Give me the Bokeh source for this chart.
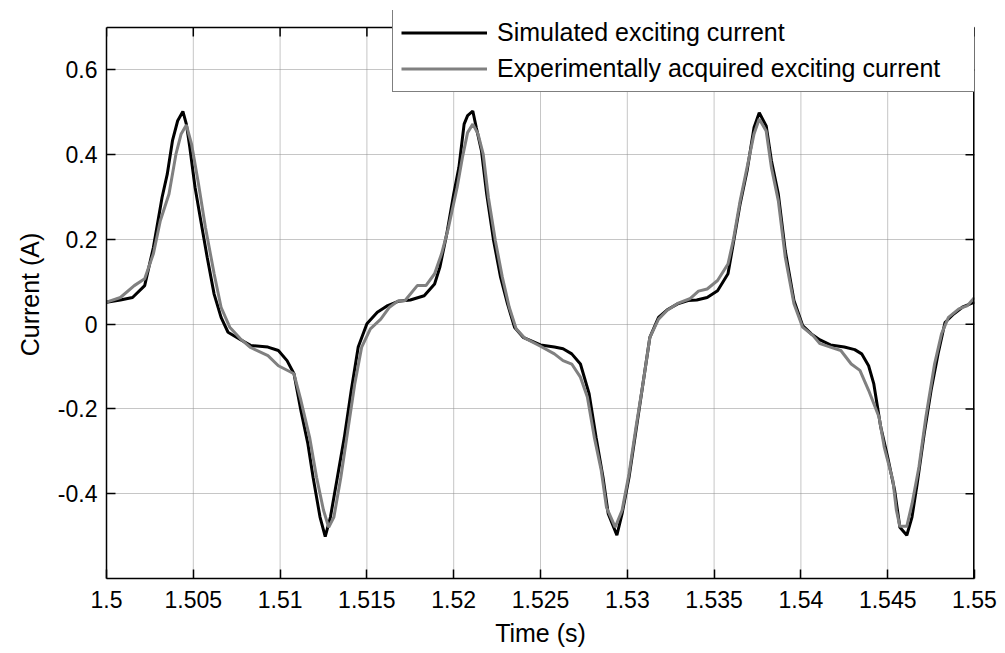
from bokeh.plotting import figure
from bokeh.models import Range1d, FixedTicker, Legend, LegendItem, ColumnDataSource
from bokeh.embed import file_html
from bokeh.resources import INLINE

# ---- data ----
sim_t = [1.5000, 1.5008, 1.5015, 1.5022, 1.5027, 1.5032, 1.5035, 1.5038, 1.5041, 1.5044,
         1.5046, 1.5048, 1.5051, 1.5054, 1.5058, 1.5062, 1.5066, 1.5070, 1.5077, 1.5083,
         1.5093, 1.5099, 1.5104, 1.5108, 1.5112, 1.5116, 1.5119, 1.5123, 1.5126, 1.5129,
         1.5133, 1.5137, 1.5141, 1.5145, 1.5150, 1.5156, 1.5162, 1.5168, 1.5175, 1.5183,
         1.5189, 1.5192, 1.5196, 1.5200, 1.5203, 1.5206, 1.5208, 1.5211, 1.5213, 1.5216,
         1.5219, 1.5223, 1.5227, 1.5231, 1.5235, 1.5240, 1.5244, 1.5250, 1.5258, 1.5263,
         1.5268, 1.5273, 1.5278, 1.5282, 1.5286, 1.5289, 1.5294, 1.5297, 1.5301, 1.5305,
         1.5309, 1.5313, 1.5318, 1.5323, 1.5329, 1.5335, 1.5340, 1.5346, 1.5352, 1.5358,
         1.5361, 1.5365, 1.5369, 1.5373, 1.5376, 1.5380, 1.5383, 1.5387, 1.5391, 1.5396,
         1.5401, 1.5406, 1.5411, 1.5417, 1.5425, 1.5431, 1.5435, 1.5439, 1.5442, 1.5446,
         1.5450, 1.5454, 1.5457, 1.5461, 1.5464, 1.5467, 1.5471, 1.5475, 1.5479, 1.5483,
         1.5488, 1.5493, 1.5500]
sim_i = [0.052, 0.057, 0.063, 0.091, 0.181, 0.299, 0.354, 0.433, 0.480, 0.502,
         0.472, 0.417, 0.323, 0.252, 0.158, 0.071, 0.016, -0.019, -0.036, -0.050,
         -0.054, -0.062, -0.086, -0.117, -0.204, -0.282, -0.361, -0.455, -0.501, -0.455,
         -0.361, -0.267, -0.156, -0.054, 0.001, 0.028, 0.044, 0.054, 0.057, 0.067,
         0.095, 0.134, 0.213, 0.307, 0.370, 0.472, 0.492, 0.503, 0.464, 0.409,
         0.307, 0.197, 0.111, 0.048, -0.007, -0.031, -0.038, -0.049, -0.054, -0.058,
         -0.070, -0.094, -0.164, -0.267, -0.361, -0.447, -0.498, -0.447, -0.361, -0.251,
         -0.141, -0.031, 0.016, 0.034, 0.048, 0.056, 0.057, 0.063, 0.079, 0.119,
         0.189, 0.284, 0.362, 0.464, 0.499, 0.468, 0.386, 0.307, 0.173, 0.056,
         -0.003, -0.023, -0.037, -0.049, -0.054, -0.060, -0.070, -0.098, -0.141, -0.243,
         -0.314, -0.392, -0.479, -0.498, -0.455, -0.376, -0.259, -0.156, -0.070, 0.004,
         0.024, 0.040, 0.052]

exp_t = [1.5000, 1.5008, 1.5016, 1.5022, 1.5027, 1.5031, 1.5036, 1.5040, 1.5043, 1.5046,
         1.5049, 1.5053, 1.5057, 1.5062, 1.5066, 1.5071, 1.5077, 1.5083, 1.5093, 1.5099,
         1.5108, 1.5112, 1.5117, 1.5121, 1.5125, 1.5128, 1.5131, 1.5135, 1.5139, 1.5143,
         1.5147, 1.5152, 1.5158, 1.5163, 1.5168, 1.5172, 1.5179, 1.5184, 1.5189, 1.5193,
         1.5197, 1.5202, 1.5205, 1.5208, 1.5211, 1.5214, 1.5217, 1.5220, 1.5224, 1.5228,
         1.5232, 1.5236, 1.5241, 1.5250, 1.5258, 1.5263, 1.5268, 1.5273, 1.5277, 1.5281,
         1.5285, 1.5288, 1.5293, 1.5297, 1.5301, 1.5305, 1.5309, 1.5313, 1.5318, 1.5323,
         1.5329, 1.5336, 1.5341, 1.5346, 1.5352, 1.5358, 1.5361, 1.5365, 1.5369, 1.5373,
         1.5376, 1.5380, 1.5383, 1.5387, 1.5391, 1.5396, 1.5401, 1.5407, 1.5411, 1.5417,
         1.5423, 1.5429, 1.5434, 1.5439, 1.5445, 1.5448, 1.5453, 1.5455, 1.5457, 1.5461,
         1.5464, 1.5468, 1.5472, 1.5477, 1.5481, 1.5485, 1.5491, 1.5496, 1.5500]
exp_i = [0.052, 0.063, 0.091, 0.107, 0.166, 0.244, 0.307, 0.401, 0.449, 0.470,
         0.425, 0.331, 0.228, 0.119, 0.040, -0.007, -0.034, -0.055, -0.074, -0.098,
         -0.117, -0.180, -0.267, -0.361, -0.439, -0.479, -0.455, -0.361, -0.251, -0.141,
         -0.054, -0.011, 0.012, 0.040, 0.055, 0.056, 0.091, 0.091, 0.119, 0.166,
         0.228, 0.323, 0.393, 0.452, 0.472, 0.449, 0.401, 0.299, 0.197, 0.111,
         0.040, -0.011, -0.033, -0.052, -0.070, -0.086, -0.094, -0.125, -0.172, -0.267,
         -0.345, -0.432, -0.479, -0.439, -0.353, -0.243, -0.141, -0.031, 0.012, 0.033,
         0.049, 0.060, 0.078, 0.083, 0.103, 0.142, 0.197, 0.291, 0.370, 0.449,
         0.484, 0.456, 0.370, 0.291, 0.158, 0.048, -0.007, -0.027, -0.046, -0.054,
         -0.062, -0.094, -0.109, -0.156, -0.219, -0.290, -0.369, -0.439, -0.477, -0.477,
         -0.424, -0.337, -0.219, -0.094, -0.023, 0.016, 0.036, 0.044, 0.063]

x_ticks = [1.5, 1.505, 1.51, 1.515, 1.52, 1.525, 1.53, 1.535, 1.54, 1.545, 1.55]
x_tick_labels = ["1.5", "1.505", "1.51", "1.515", "1.52", "1.525", "1.53", "1.535",
                 "1.54", "1.545", "1.55"]
y_ticks = [-0.4, -0.2, 0, 0.2, 0.4, 0.6]
y_tick_labels = ["-0.4", "-0.2", "0", "0.2", "0.4", "0.6"]
x_limits = [1.5, 1.55]
y_limits = [-0.6, 0.7]

series_names = ["Simulated exciting current", "Experimentally acquired exciting current"]
series_colors = ["#000000", "#808080"]

# ---- layout (pixels) ----
W, H = 1005, 653
LEFT, RIGHT, BOX_TOP, BOTTOM, FRAME_TOP = 106, 31, 27, 75, 10
FONT = "Liberation Sans"
TICK_FS = "23px"
LABEL_FS = "25px"
TICK_LEN = 9

box_h = H - BOX_TOP - BOTTOM
box_w = W - LEFT - RIGHT
y_per_px = (y_limits[1] - y_limits[0]) / box_h
x_per_px = (x_limits[1] - x_limits[0]) / box_w
y_frame_top = y_limits[1] + (BOX_TOP - FRAME_TOP) * y_per_px

p = figure(width=W, height=H, output_backend="svg", toolbar_location=None,
           x_range=Range1d(*x_limits), y_range=Range1d(y_limits[0], y_frame_top),
           min_border_left=LEFT, min_border_right=RIGHT, min_border_top=FRAME_TOP,
           min_border_bottom=BOTTOM, x_axis_label="Time (s)", y_axis_label="Current (A)")
p.background_fill_color = "white"
p.border_fill_color = "white"
p.outline_line_color = None
p.xgrid.visible = False

# dotted grid
grid_style = dict(line_color="#8c8c8c", line_dash="1 1", line_width=1)
p.segment(x0=x_ticks, y0=[y_limits[0]] * len(x_ticks), x1=x_ticks,
          y1=[y_limits[1]] * len(x_ticks), **grid_style)
p.ygrid.ticker = FixedTicker(ticks=y_ticks)
p.ygrid.grid_line_color = "#8c8c8c"
p.ygrid.grid_line_dash = "1 1"
p.ygrid.grid_line_width = 1

src_sim = ColumnDataSource(dict(t=sim_t, i=sim_i))
src_exp = ColumnDataSource(dict(t=exp_t, i=exp_i))
r1 = p.line("t", "i", source=src_sim, line_color=series_colors[0], line_width=3)
r2 = p.line("t", "i", source=src_exp, line_color=series_colors[1], line_width=3)

# box: top edge, right edge, and inward ticks on top/right
p.segment(x0=[x_limits[0]], y0=[y_limits[1]], x1=[x_limits[1]], y1=[y_limits[1]],
          line_color="black", line_width=1.5)
p.segment(x0=[x_limits[1]], y0=[y_limits[0]], x1=[x_limits[1]], y1=[y_limits[1]],
          line_color="black", line_width=3)
p.segment(x0=x_ticks, y0=[y_limits[1]] * len(x_ticks), x1=x_ticks,
          y1=[y_limits[1] - TICK_LEN * y_per_px] * len(x_ticks),
          line_color="black", line_width=1.5)
p.segment(x0=[x_limits[1]] * len(y_ticks), y0=y_ticks,
          x1=[x_limits[1] - TICK_LEN * x_per_px] * len(y_ticks), y1=y_ticks,
          line_color="black", line_width=1.5)

for ax in (p.xaxis[0], p.yaxis[0]):
    ax.major_label_text_font = FONT
    ax.major_label_text_font_size = TICK_FS
    ax.major_label_text_color = "black"
    ax.axis_label_text_font = FONT
    ax.axis_label_text_font_size = LABEL_FS
    ax.axis_label_text_font_style = "normal"
    ax.axis_label_text_color = "black"
    ax.major_tick_in = TICK_LEN
    ax.major_tick_out = 0
    ax.minor_tick_in = 0
    ax.minor_tick_out = 0
    ax.axis_line_width = 1.5
    ax.major_tick_line_width = 1.5

p.xaxis[0].ticker = FixedTicker(ticks=x_ticks)
p.xaxis[0].major_label_overrides = dict(zip(x_ticks, x_tick_labels))
p.xaxis[0].major_label_standoff = 12
p.xaxis[0].axis_label_standoff = 8
p.yaxis[0].ticker = FixedTicker(ticks=y_ticks)
p.yaxis[0].major_label_overrides = dict(zip(y_ticks, y_tick_labels))
p.yaxis[0].major_label_standoff = 9
p.yaxis[0].axis_label_standoff = 11
p.yaxis[0].bounds = (y_limits[0], y_limits[1])

legend = Legend(items=[LegendItem(label=series_names[0], renderers=[r1]),
                       LegendItem(label=series_names[1], renderers=[r2])],
                location=(392 - LEFT, H - BOTTOM - 92), orientation="vertical")
legend.label_text_font = FONT
legend.label_text_font_size = LABEL_FS
legend.label_text_color = "black"
legend.glyph_width = 86
legend.glyph_height = 29
legend.label_height = 29
legend.label_width = 470
legend.spacing = 7
legend.padding = 8
legend.margin = 0
legend.label_standoff = 10
legend.border_line_color = "black"
legend.border_line_width = 1.5
legend.background_fill_color = "white"
legend.background_fill_alpha = 1.0
p.add_layout(legend, "center")

open("out.html", "w").write(file_html(p, INLINE))
